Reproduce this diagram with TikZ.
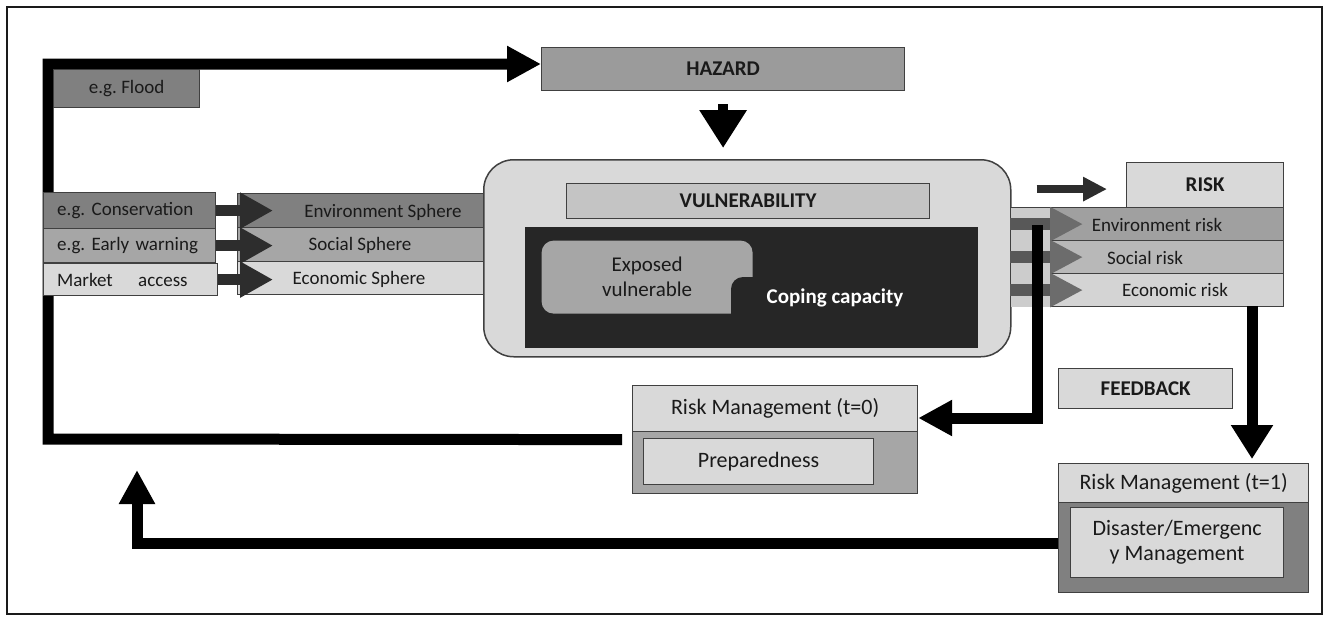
\documentclass[tikz,border=0pt]{standalone}
\usepackage{fontspec}
\setmainfont{Carlito}
\usetikzlibrary{arrows.meta}
\definecolor{inkblack}{RGB}{26, 26, 26}
\definecolor{edgegray}{RGB}{64, 64, 64}
\definecolor{charcoal}{RGB}{45, 45, 45}
\definecolor{slatedark}{RGB}{38, 38, 38}
\definecolor{steelgray}{RGB}{128, 128, 128}
\definecolor{hazardgray}{RGB}{155, 155, 155}
\definecolor{silver}{RGB}{166, 166, 166}
\definecolor{vulngray}{RGB}{196, 196, 196}
\definecolor{cloud}{RGB}{217, 217, 217}
\definecolor{envrisk}{RGB}{160, 160, 160}
\definecolor{socrisk}{RGB}{184, 184, 184}
\definecolor{ecorisk}{RGB}{212, 212, 212}
\definecolor{shaftgray}{RGB}{88, 88, 88}
\definecolor{headgray}{RGB}{108, 108, 108}
\definecolor{stripe}{RGB}{204, 204, 204}

\tikzset{
  panel/.style={draw=edgegray, line width=1.2pt, inner sep=0pt, anchor=north west, text=inkblack, font=\fontsize{22}{25}\selectfont},
  headline/.style={panel, font=\bfseries\fontsize{21}{25}\selectfont},
  tag/.style={panel, font=\fontsize{19}{22}\selectfont},
  rowtext/.style={inner sep=0pt, text=inkblack, font=\fontsize{19}{22}\selectfont},
  feedline/.style={line width=11pt, line join=miter, draw=black, -{Triangle[length=34pt,width=34pt]}},
  flowarrow/.style={line width=11pt, draw=charcoal, -{Triangle[length=33pt,width=34pt]}},
  riskarrow/.style={line width=12pt, draw=shaftgray, -{Triangle[length=33pt,width=32pt,color=headgray]}}
}

\begin{document}
\frenchspacing
\begin{tikzpicture}[x=1pt, y=-1pt]
\useasboundingbox (0,0) rectangle (1329,616);
\draw[line width=2pt, draw=inkblack] (7,7) rectangle (1322,614);

\node[headline, fill=hazardgray, minimum width=363pt, minimum height=43pt] (hazard) at (541,47) {HAZARD};
\node[panel, fill=silver, minimum width=285pt, minimum height=108pt] (rm0) at (632,385) {};
\node[panel, fill=steelgray, minimum width=250pt, minimum height=129pt] (rm1) at (1058,463) {};

\coordinate (loopsw) at (48,439);
\coordinate (loopnw) at (48,64);
\draw[feedline] ([xshift=-10pt]rm0.west) -- (loopsw) -- (loopnw) -- (loopnw -| hazard.west);
\coordinate (retcorner) at (137,543);
\coordinate (retup) at (137,470);
\draw[feedline] (rm1.west |- retcorner) -- (retcorner) -- (retup);

\node[tag, fill=steelgray, minimum width=146pt, minimum height=38pt] (flood) at (53,69) {e.g. Flood};
\node[tag, fill=steelgray, minimum width=172pt, minimum height=36pt, text width=145pt, inner xsep=13.5pt, align=left] (cons) at (43,192) {e.g. Conservation};
\node[tag, fill=silver, minimum width=172pt, minimum height=34pt, text width=145pt, inner xsep=13.5pt, align=left] (warn) at (43,228) {e.g. Early warning};
\node[tag, fill=cloud, minimum width=174pt, minimum height=32pt, text width=147pt, inner xsep=13.5pt, align=left] (market) at (43,263) {Market \quad access};

\node[panel, fill=steelgray, minimum width=246pt, minimum height=34pt] (envs) at (237,193) {};
\node[panel, fill=silver, minimum width=246pt, minimum height=34pt] (socs) at (237,227) {};
\node[panel, fill=cloud, minimum width=246pt, minimum height=33pt] (ecos) at (237,261) {};
\draw[flowarrow] (cons.east) -- ([xshift=36pt]cons.east -| envs.west);
\draw[flowarrow] (warn.east) -- ([xshift=36pt]warn.east -| socs.west);
\draw[flowarrow] (market.east) -- ([xshift=36pt]market.east -| ecos.west);
\node[rowtext] (envstext) at (383,212) {Environment Sphere};
\node[rowtext] (socstext) at (360,245) {Social Sphere};
\node[rowtext] (ecostext) at (359,279) {Economic Sphere};

\node[panel, fill=cloud, rounded corners=30pt, line width=1.5pt, minimum width=527pt, minimum height=197pt] (outer) at (483,159) {};
\node[headline, fill=vulngray, minimum width=363pt, minimum height=35pt] (vuln) at (566,183) {VULNERABILITY};
\node[panel, draw=none, fill=slatedark, minimum width=453pt, minimum height=121pt] (core) at (524,226) {};
\node[panel, draw=none, fill=silver, rounded corners=12pt, minimum width=211pt, minimum height=73pt, align=center, font=\fontsize{21}{25}\selectfont] (exposed) at (541,240) {Exposed\\vulnerable};
\fill[slatedark, rounded corners=12pt] (731,277) rectangle (800,335);
\node[text=white, font=\bfseries\fontsize{21}{25}\selectfont] (coping) at (835,298) {Coping capacity};
\draw[-{Triangle[length=38pt,width=45pt]}, line width=10pt, draw=black] ([yshift=-13pt]hazard.south) -- ([yshift=11pt]hazard.south |- outer.north);

\node[headline, fill=cloud, minimum width=157pt, minimum height=45pt] (risk) at (1126,162) {RISK};
\node[panel, fill=envrisk, minimum width=273pt, minimum height=33pt] (envr) at (1010,207) {};
\node[panel, fill=socrisk, minimum width=273pt, minimum height=33pt] (socr) at (1010,240) {};
\node[panel, fill=ecorisk, minimum width=273pt, minimum height=33pt] (ecor) at (1010,273) {};
\fill[stripe] ([shift={(1pt,-1pt)}]envr.north west) rectangle ([xshift=40pt]ecor.south west);
\draw[riskarrow] (envr.west) -- ([xshift=73pt]envr.west);
\draw[riskarrow] (socr.west) -- ([xshift=73pt]socr.west);
\draw[riskarrow] (ecor.west) -- ([xshift=73pt]ecor.west);
\node[rowtext] (envrtext) at (1157,225) {Environment risk};
\node[rowtext] (socrtext) at (1145,258) {Social risk};
\node[rowtext] (ecortext) at (1175,290) {Economic risk};
\draw[line width=8pt, draw=charcoal, -{Triangle[length=24pt,width=23pt]}] ([shift={(25pt,-4pt)}]outer.east |- risk.west) -- ([shift={(-19pt,-4pt)}]risk.west);

\coordinate (tap) at (1037,225);
\coordinate (fbturn) at (1037,418);
\draw[feedline] (tap) -- (fbturn) -- (fbturn -| rm0.east);
\coordinate (drop) at (1252,306);
\draw[feedline, -{Triangle[length=34pt,width=40pt]}, shorten >=4pt] (drop) -- (drop |- rm1.north);

\node[headline, fill=cloud, minimum width=174pt, minimum height=40pt] (feedback) at (1058,368) {FEEDBACK};
\node[panel, fill=cloud, minimum width=285pt, minimum height=46pt] (rm0top) at (632,385) {Risk Management (t=0)};
\node[panel, fill=cloud, minimum width=230pt, minimum height=46pt] (prep) at (643,438) {Preparedness};
\node[panel, fill=cloud, minimum width=250pt, minimum height=39pt] (rm1top) at (1058,463) {Risk Management (t=1)};
\node[panel, fill=cloud, minimum width=213pt, minimum height=70pt, align=center] (disaster) at (1070,507) {Disaster/Emergenc\\y Management};
\end{tikzpicture}
\end{document}
